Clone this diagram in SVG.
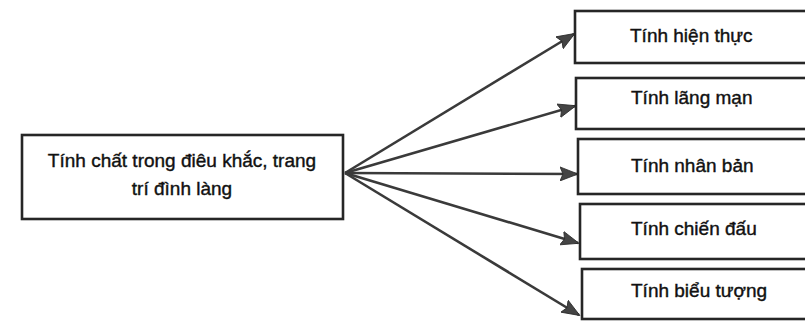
<svg xmlns="http://www.w3.org/2000/svg" width="805" height="322" viewBox="0 0 805 322">
  <style>
    .box { fill: #ffffff; stroke: #262626; stroke-width: 2.6; }
    .lbl { font-family: "Liberation Sans", Arial, sans-serif; font-size: 19px; fill: #111111; stroke: #111111; stroke-width: 0.4; }
    .edge { stroke: #3a3a3a; stroke-width: 2.6; fill: none; marker-end: url(#head); }
  </style>
  <defs>
    <marker id="head" markerUnits="userSpaceOnUse" markerWidth="19" markerHeight="15" refX="17" refY="7.5" orient="auto">
      <path d="M0,0.5 L18,7.5 L0,14.5 L3,7.5 Z" fill="#444444" stroke="#2a2a2a" stroke-width="0.8"/>
    </marker>
  </defs>
  <rect width="805" height="322" fill="#ffffff"/>

  <g id="connectors">
    <line class="edge" x1="345" y1="173" x2="574" y2="34"/>
    <line class="edge" x1="345" y1="173" x2="575" y2="106"/>
    <line class="edge" x1="345" y1="173" x2="577" y2="174"/>
    <line class="edge" x1="345" y1="173" x2="578" y2="243"/>
    <line class="edge" x1="345" y1="173" x2="579" y2="315"/>
  </g>

  <g id="root">
    <rect class="box" x="22" y="135" width="321" height="84"/>
    <text class="lbl" x="182" y="167" text-anchor="middle">Tính chất trong điêu khắc, trang</text>
    <text class="lbl" x="182" y="195" text-anchor="middle">trí đình làng</text>
  </g>

  <g id="hien-thuc">
    <rect class="box" x="575" y="11" width="240" height="52"/>
    <text class="lbl" x="630" y="42">Tính hiện thực</text>
  </g>
  <g id="lang-man">
    <rect class="box" x="576" y="78" width="240" height="51"/>
    <text class="lbl" x="631" y="104">Tính lãng mạn</text>
  </g>
  <g id="nhan-ban">
    <rect class="box" x="578" y="139" width="240" height="55"/>
    <text class="lbl" x="631" y="172">Tính nhân bản</text>
  </g>
  <g id="chien-dau">
    <rect class="box" x="580" y="204" width="240" height="55"/>
    <text class="lbl" x="631" y="235">Tính chiến đấu</text>
  </g>
  <g id="bieu-tuong">
    <rect class="box" x="582" y="269" width="240" height="50"/>
    <text class="lbl" x="631" y="297">Tính biểu tượng</text>
  </g>
</svg>
